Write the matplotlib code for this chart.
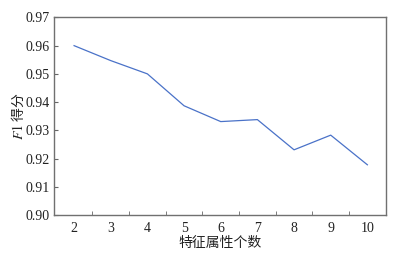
import matplotlib
matplotlib.use("Agg")
import matplotlib.pyplot as plt
import numpy as np

features = [2, 3, 4, 5, 6, 7, 8, 9, 10]
f1_scores = [0.9600, 0.9547, 0.9500, 0.9387, 0.9331, 0.9338, 0.9231, 0.9283, 0.9178]
x_ticklabels = ["2", "3", "4", "5", "6", "7", "8", "9", "10"]
y_ticks = [0.90, 0.91, 0.92, 0.93, 0.94, 0.95, 0.96, 0.97]

plt.rcParams['mathtext.fontset'] = 'stix'

fig = plt.figure(figsize=(4.06, 2.56), dpi=100)
ax = fig.add_axes([0.1337, 0.160, 0.8163, 0.772])

ax.plot(features, f1_scores, color='#4a72c8', linewidth=0.9)

ax.set_xlim(1.46, 10.5)
ax.set_ylim(0.90, 0.97)

ax.set_xticks(features)
ax.set_xticklabels(x_ticklabels, fontfamily='Liberation Serif', fontsize=10)
ax.set_xticks(np.arange(2.5, 10.0, 1.0), minor=True)
ax.tick_params(axis='x', which='major', length=0, pad=5, colors='#222222')
ax.tick_params(axis='x', which='minor', direction='in', length=3, color='#666666')

ax.set_yticks(y_ticks)
ax.set_yticklabels([f"{v:.2f}" for v in y_ticks], fontfamily='Liberation Serif', fontsize=10)
ax.tick_params(axis='y', which='major', direction='in', length=3, color='#666666', pad=3, labelcolor='#222222')

for s in ax.spines.values():
    s.set_color('#707070')
    s.set_linewidth(1.0)

ax.set_xlabel('特征属性个数', fontfamily=['Noto Sans CJK SC', 'DejaVu Sans'], fontsize=10, color='#222222', labelpad=1)
ax.set_ylabel(r'$F1$ 得分', fontfamily=['Noto Sans CJK SC', 'DejaVu Sans'], fontsize=10, color='#222222', labelpad=0)

fig.savefig('out.png', dpi=100)
